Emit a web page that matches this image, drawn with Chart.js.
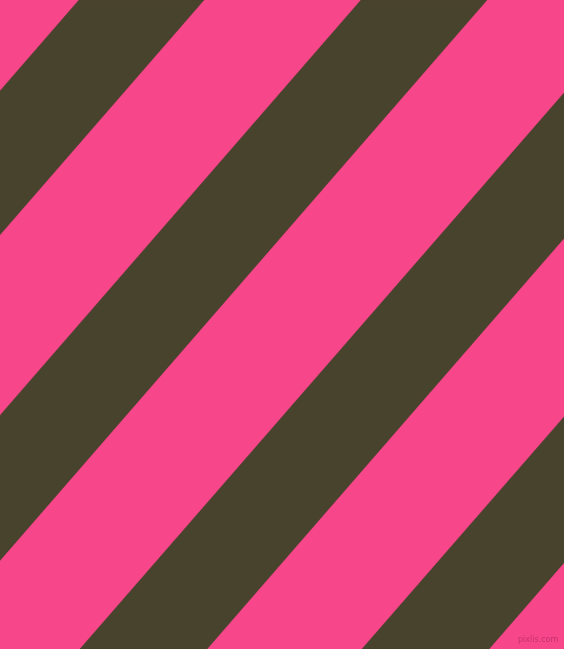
<!DOCTYPE html>
<html>
<head>
<meta charset="utf-8">
<script src="https://cdn.jsdelivr.net/npm/chart.js@4.4.1/dist/chart.umd.min.js"></script>
<style>
  html, body { margin: 0; padding: 0; background: #f8468a; }
  #wrap { position: relative; width: 564px; height: 649px; background: #f8468a; overflow: hidden; }
  #mark {
    position: absolute; left: 518px; top: 635px;
    font: 8px "DejaVu Sans", sans-serif; color: #c4336d;
  }
</style>
</head>
<body>
<div id="wrap">
  <canvas id="stripes"></canvas>
  <div id="mark">pixlis.com</div>
</div>
<script>
// dark band edges, x where each edge meets the top (y=0) and the bottom (y=649)
const topLeft = [79, 361, 645, 927];
const topRight = [204, 487, 771, 1053];
const bottomLeft = [-485, -203, 80, 362];
const bottomRight = [-360, -77, 207, 489];
const canvasW = 564;
const canvasH = 649;
const darkColor = '#48432c';

const datasets = topLeft.map((tl, i) => ({
  data: [
    { x: tl, y: 0 },
    { x: topRight[i], y: 0 },
    { x: bottomRight[i], y: canvasH },
    { x: bottomLeft[i], y: canvasH },
    { x: tl, y: 0 }
  ],
  showLine: true,
  fill: 'shape',
  backgroundColor: darkColor,
  borderColor: darkColor,
  borderWidth: 0.5,
  pointRadius: 0,
  tension: 0
}));

new Chart(document.getElementById('stripes'), {
  type: 'scatter',
  data: { datasets },
  options: {
    responsive: true,
    maintainAspectRatio: false,
    animation: false,
    layout: { padding: 0 },
    scales: {
      x: { type: 'linear', min: 0, max: canvasW, display: false },
      y: { type: 'linear', min: 0, max: canvasH, reverse: true, display: false }
    },
    plugins: { legend: { display: false }, tooltip: { enabled: false } }
  }
});
</script>
</body>
</html>
